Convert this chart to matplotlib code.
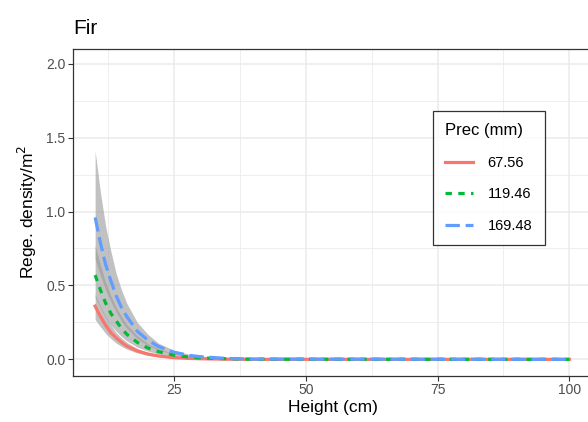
import numpy as np
import matplotlib.pyplot as plt
from matplotlib.ticker import MultipleLocator

plt.rcParams["font.family"] = ["Liberation Sans", "DejaVu Sans"]

# height (cm) where predictions were read
height = [10, 11, 12, 13, 14, 15, 16, 18, 20, 22, 25, 28, 30, 35, 40, 100]

# predicted regeneration density per precipitation level
prec_labels = ["67.56", "119.46", "169.48"]
dens_67 = [0.36, 0.29, 0.23, 0.18, 0.145, 0.115, 0.09, 0.057, 0.036, 0.023, 0.011, 0.006, 0.004, 0.001, 0.0, 0.0]
dens_119 = [0.57, 0.47, 0.38, 0.31, 0.26, 0.21, 0.17, 0.115, 0.077, 0.052, 0.028, 0.015, 0.01, 0.004, 0.001, 0.0]
dens_169 = [0.96, 0.79, 0.64, 0.53, 0.43, 0.35, 0.29, 0.19, 0.13, 0.087, 0.048, 0.026, 0.018, 0.006, 0.002, 0.0]

# confidence bands
lo_67 = [0.27, 0.22, 0.175, 0.14, 0.11, 0.088, 0.069, 0.043, 0.027, 0.017, 0.008, 0.004, 0.003, 0.0007, 0.0, 0.0]
hi_67 = [0.44, 0.36, 0.29, 0.23, 0.18, 0.145, 0.115, 0.073, 0.047, 0.03, 0.015, 0.008, 0.005, 0.0015, 0.0, 0.0]
lo_119 = [0.42, 0.35, 0.28, 0.23, 0.19, 0.155, 0.125, 0.083, 0.056, 0.037, 0.02, 0.011, 0.007, 0.002, 0.0005, 0.0]
hi_119 = [0.77, 0.64, 0.52, 0.43, 0.35, 0.29, 0.235, 0.16, 0.105, 0.072, 0.039, 0.021, 0.014, 0.005, 0.002, 0.0]
lo_169 = [0.68, 0.57, 0.47, 0.39, 0.32, 0.26, 0.21, 0.14, 0.095, 0.063, 0.034, 0.019, 0.013, 0.004, 0.001, 0.0]
hi_169 = [1.41, 1.13, 0.90, 0.73, 0.58, 0.47, 0.38, 0.25, 0.17, 0.11, 0.06, 0.033, 0.023, 0.008, 0.003, 0.0]

colors = ["#F8766D", "#00BA38", "#619CFF"]
styles = ["-", (0, (2, 2)), (0, (4.5, 1.8))]

fig = plt.figure(figsize=(5.88, 4.22), dpi=100)
ax = fig.add_axes([73 / 588, 1 - 375.6 / 422, 520 / 588, (375.6 - 48.9) / 422])

# grey ribbons
for lo, hi in [(lo_67, hi_67), (lo_119, hi_119), (lo_169, hi_169)]:
    ax.fill_between(height, lo, hi, color="#999999", alpha=0.6, lw=0, zorder=2)

for dens, col, ls, lab in zip([dens_67, dens_119, dens_169], colors, styles, prec_labels):
    ax.plot(height, dens, color=col, linestyle=ls, lw=2.3, label=lab, zorder=3)

ax.set_xlim(5.8, 104.5)
ax.set_ylim(-0.11, 2.1)
ax.xaxis.set_minor_locator(MultipleLocator(12.5))
ax.yaxis.set_minor_locator(MultipleLocator(0.25))
ax.set_xticks([25, 50, 75, 100])
ax.set_yticks([0, 0.5, 1.0, 1.5, 2.0])
ax.set_yticklabels(["0.0", "0.5", "1.0", "1.5", "2.0"])
ax.grid(which="major", color="#EBEBEB", lw=1.1, zorder=0)
ax.grid(which="minor", color="#EBEBEB", lw=0.6, zorder=0)
ax.set_axisbelow(True)
ax.tick_params(which="major", length=3.5, width=0.8, color="#333333", labelsize=10, labelcolor="#4D4D4D", pad=2)
ax.tick_params(which="minor", length=0)
for sp in ax.spines.values():
    sp.set_color("#333333")
    sp.set_linewidth(0.9)

ax.set_xlabel("Height (cm)", fontsize=12.5, labelpad=2)
ax.set_ylabel("Rege. density/m$^2$", fontsize=12.5, labelpad=5)
fig.text(73 / 588, 1 - 28 / 422, "Fir", fontsize=15, va="center", ha="left")

leg = ax.legend(title="Prec (mm)", loc="upper left",
                bbox_to_anchor=(433 / 588, 1 - 111 / 422), bbox_transform=fig.transFigure,
                fontsize=10.5, title_fontsize=12, frameon=True, fancybox=False,
                handlelength=1.9, handletextpad=1.0, labelspacing=1.2,
                borderpad=0.85, borderaxespad=0)
leg.get_frame().set_edgecolor("black")
leg.get_frame().set_linewidth(0.9)
leg._legend_box.align = "left"

fig.savefig("out.png", dpi=100)
